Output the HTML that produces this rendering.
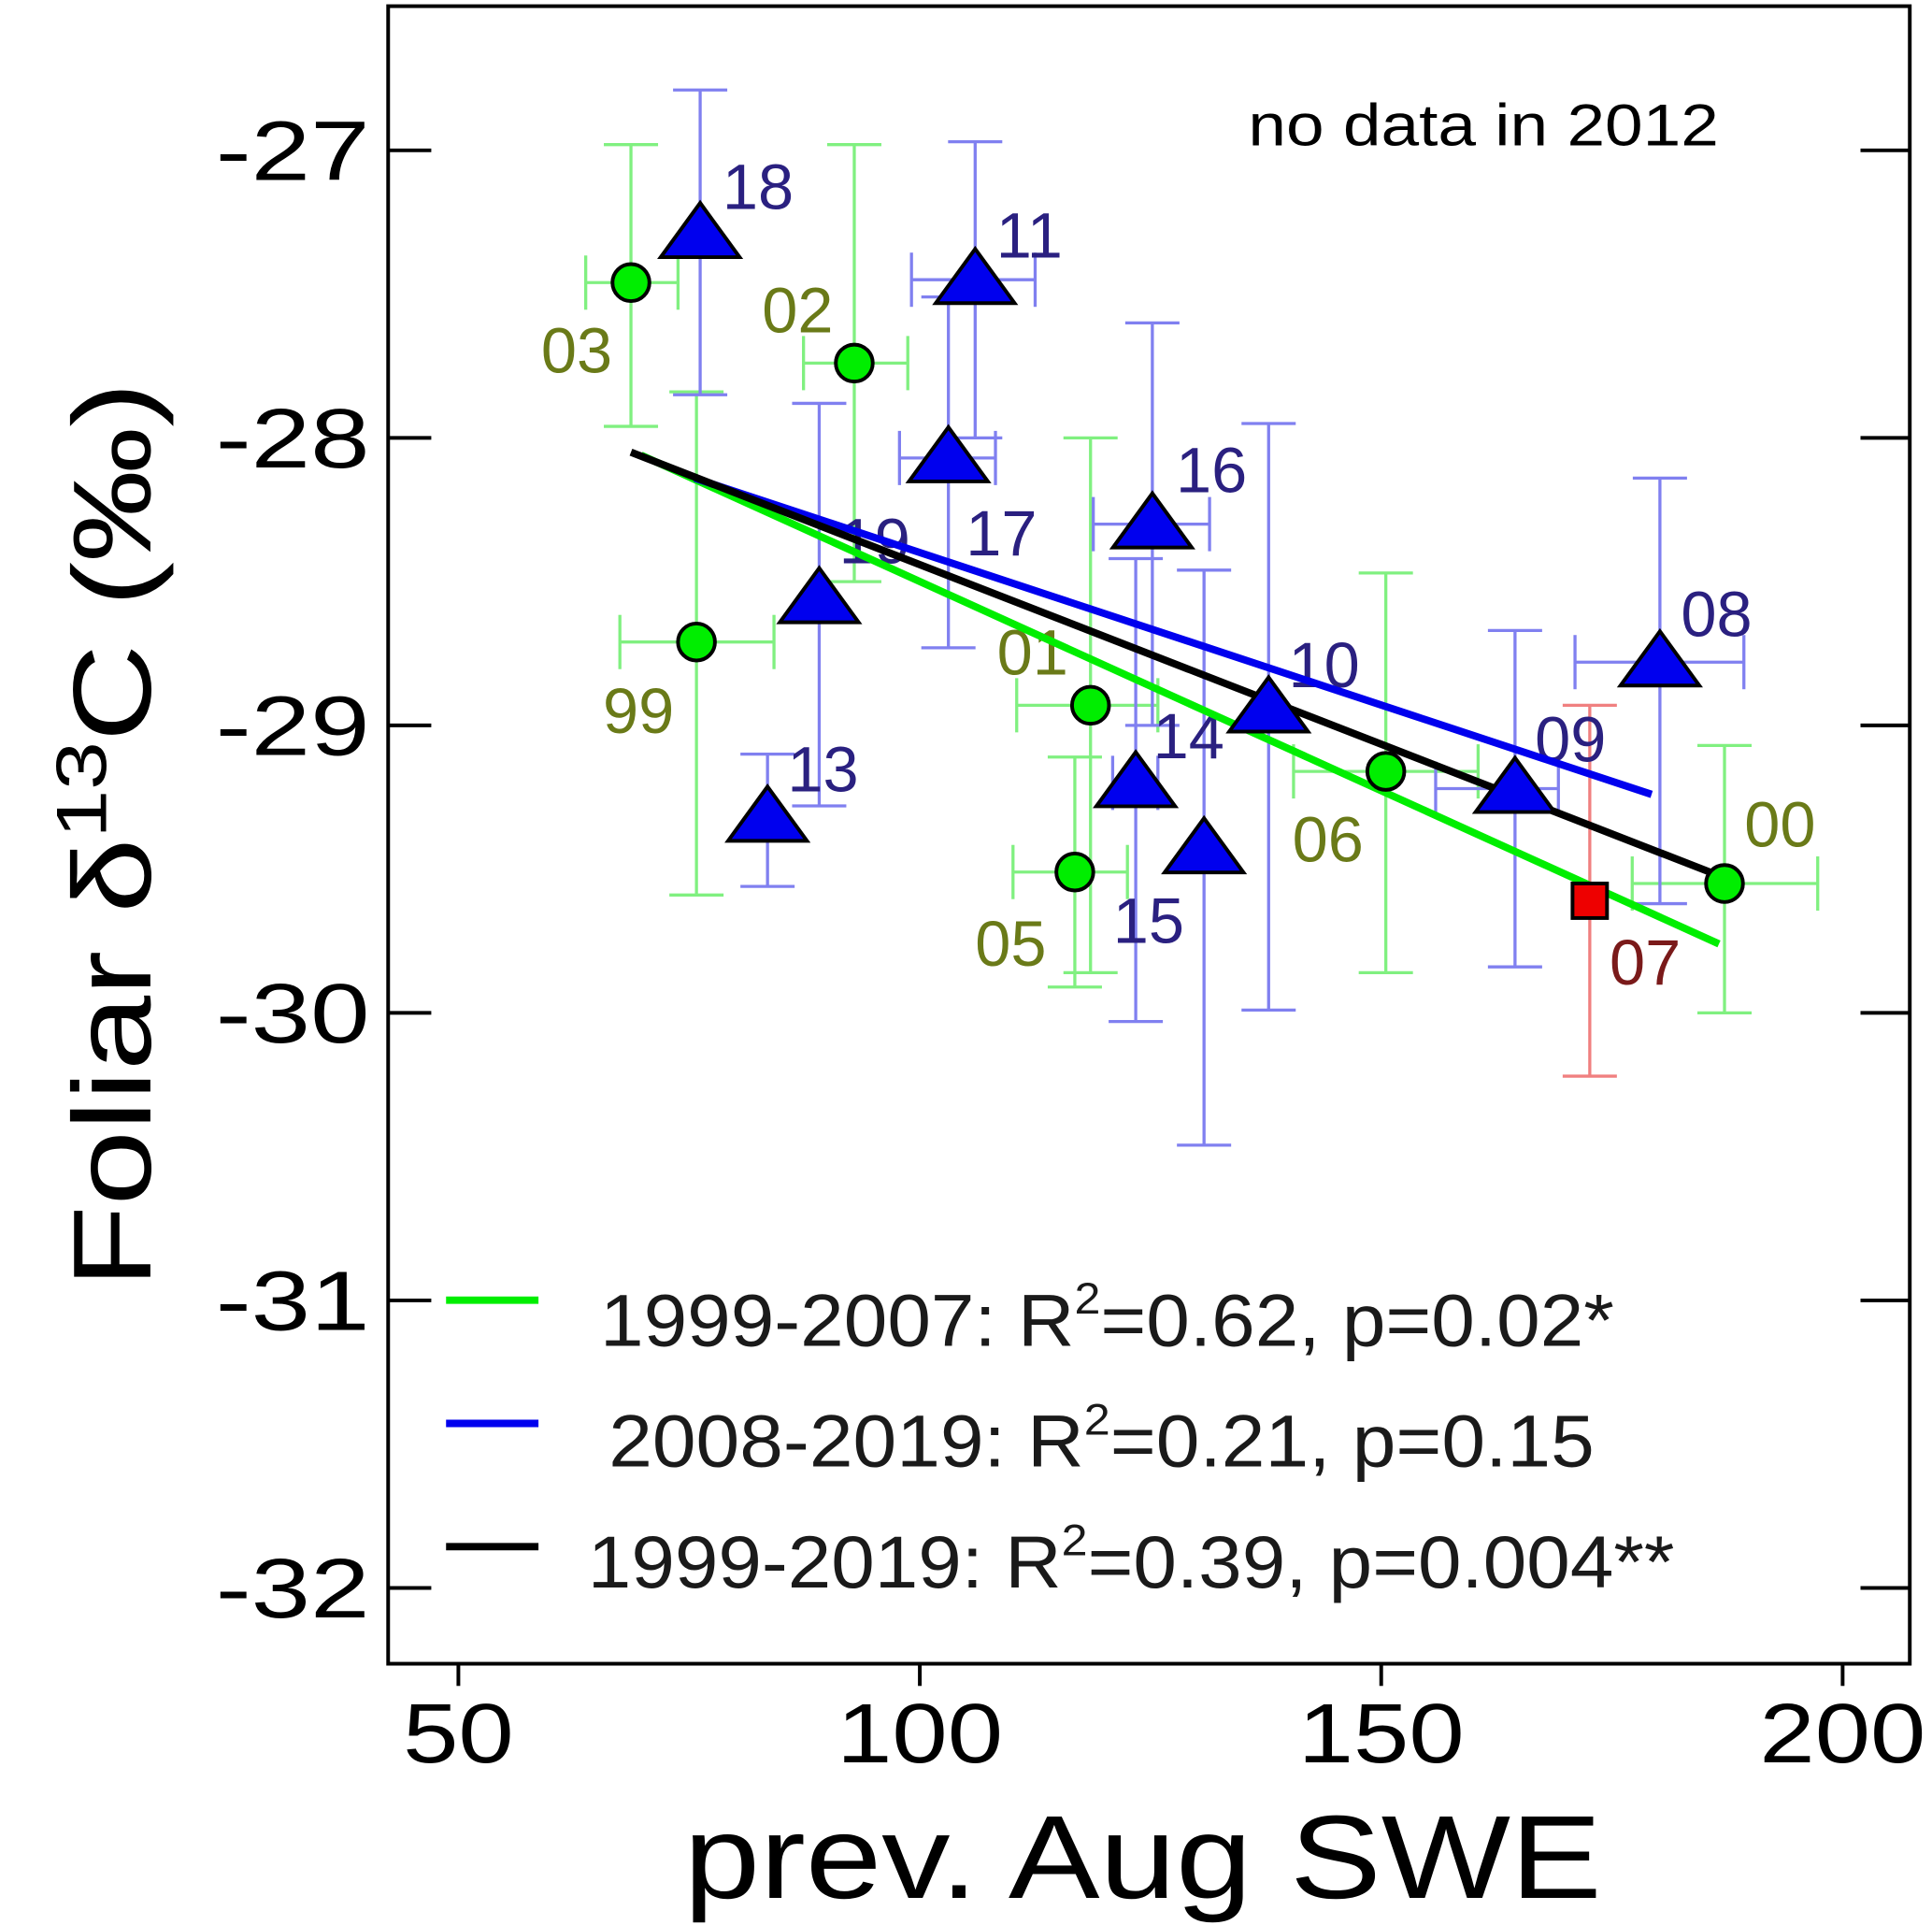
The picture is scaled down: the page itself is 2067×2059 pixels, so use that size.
<!DOCTYPE html>
<html><head><meta charset="utf-8"><style>html,body{margin:0;padding:0;background:#fff}svg{display:block}</style></head>
<body>
<svg id="chart" xmlns="http://www.w3.org/2000/svg" width="2067" height="2059" viewBox="0 0 1568 1562" font-family="Liberation Sans, Arial, sans-serif">
<rect x="0" y="0" width="1568" height="1562" fill="#fff"/>
<g id="bars"></g><g id="labels"></g><g id="fits"></g><g id="points"></g><g id="axes"></g>
<text x="1013" y="118" font-size="48" textLength="382" lengthAdjust="spacingAndGlyphs" fill="#000">no data in 2012</text>
<g>
<line x1="362" y1="1055" x2="437" y2="1055" stroke="#00ee00" stroke-width="6"/>
<text x="487" y="1092" font-size="60" textLength="823" lengthAdjust="spacingAndGlyphs" fill="#1a1a1a">1999-2007: R<tspan dy="-26" font-size="36">2</tspan><tspan dy="26">=0.62, p=0.02*</tspan></text>
<line x1="362" y1="1155" x2="437" y2="1155" stroke="#0000ee" stroke-width="6"/>
<text x="494" y="1190" font-size="60" textLength="800" lengthAdjust="spacingAndGlyphs" fill="#1a1a1a">2008-2019: R<tspan dy="-26" font-size="36">2</tspan><tspan dy="26">=0.21, p=0.15</tspan></text>
<line x1="362" y1="1255" x2="437" y2="1255" stroke="#000" stroke-width="6"/>
<text x="477" y="1288" font-size="60" textLength="882" lengthAdjust="spacingAndGlyphs" fill="#1a1a1a">1999-2019: R<tspan dy="-26" font-size="36">2</tspan><tspan dy="26">=0.39, p=0.004**</tspan></text>
</g>
<text x="555" y="1540" font-size="96" textLength="745" lengthAdjust="spacingAndGlyphs" fill="#000">prev. Aug SWE</text>
<text transform="translate(122,1045) rotate(-90)" font-size="90" textLength="735" lengthAdjust="spacingAndGlyphs" fill="#000">Foliar δ<tspan dy="-36" font-size="58">13</tspan><tspan dy="36">C (‰)</tspan></text>
</svg>
<script>
const years = ['03','99','02','01','05','06','00','07','18','11','17','16','19','13','14','15','10','09','08'];
const groups = ['g','g','g','g','g','g','g','r','b','b','b','b','b','b','b','b','b','b','b'];
const xVals = [68.7,75.8,92.9,118.5,116.8,150.5,187.2,172.6,76.2,106.0,103.1,125.2,89.1,83.5,123.4,130.8,137.8,164.5,180.2];
const yVals = [-27.46,-28.71,-27.74,-28.93,-29.51,-29.16,-29.55,-29.61,-27.29,-27.45,-28.07,-28.30,-28.56,-29.32,-29.20,-29.43,-28.94,-29.22,-28.78];
const yLo = [-27.96,-29.59,-28.50,-29.86,-29.91,-29.86,-30.00,-30.22,-27.85,-28.00,-28.73,-29.00,-29.28,-29.56,-30.03,-30.46,-29.99,-29.84,-29.62];
const yHi = [-26.98,-27.84,-26.98,-28.00,-29.11,-28.47,-29.07,-28.93,-26.79,-26.97,-27.51,-27.60,-27.88,-29.10,-28.42,-28.46,-27.95,-28.67,-28.14];
const xLo = [63.8,67.5,87.4,110.5,110.1,140.5,177.2,null,null,99.1,97.8,118.8,null,null,120.9,null,null,155.9,171.0];
const xHi = [73.8,84.2,98.7,125.8,122.5,160.5,197.3,null,null,112.5,108.2,131.4,null,null,125.8,null,null,169.2,189.3];
const fitNames = ['1999-2007','2008-2019','1999-2019'];
const fitX0 = [69.8,75.6,68.7];
const fitX1 = [186.6,179.3,187.2];
const fitY0 = [-28.06,-28.14,-28.05];
const fitY1 = [-29.76,-29.24,-29.53];
const xTicks = [50,100,150,200];
const yTicks = [-27,-28,-29,-30,-31,-32];

const NS='http://www.w3.org/2000/svg';
const sx = v => 372 + (v-50)*7.49;
const sy = v => 122 + (-27 - v)*233.3;
const labDx=[-44,-47,-46,-47,-52,-47,45,45,47,44,43,48,45,45,43,-45,45,45,46];
const labDy=[55,56,-43,-43,58,55,-48,50,-38,-36,61,-44,-47,-39,-38,58,-35,-40,-39];
const barCol={g:'#80f080',b:'#8080f0',r:'#f08080'};
const fillCol={g:'#00ee00',b:'#0000ee',r:'#ee0000'};
const labCol={g:'#6a7a18',b:'#2a2080',r:'#7a1a1a'};
function mk(tag,attrs,parent){const e=document.createElementNS(NS,tag);for(const k in attrs)e.setAttribute(k,attrs[k]);parent.appendChild(e);return e;}
const bars=document.getElementById('bars'),labels=document.getElementById('labels'),fits=document.getElementById('fits'),pts=document.getElementById('points'),axes=document.getElementById('axes');
for(let i=0;i<years.length;i++){
  const c=barCol[groups[i]],x=sx(xVals[i]),y=sy(yVals[i]);
  const g=mk('g',{stroke:c,'stroke-width':2.5,fill:'none'},bars);
  
  
  const y1=sy(yLo[i]),y2=sy(yHi[i]);
  mk('line',{x1:x,y1:y1,x2:x,y2:y2},g);
  mk('line',{x1:x-22,y1:y1,x2:x+22,y2:y1},g);
  mk('line',{x1:x-22,y1:y2,x2:x+22,y2:y2},g);
  if(xLo[i]!==null){
    const a=sx(xLo[i]),b=sx(xHi[i]);
    mk('line',{x1:a,y1:y,x2:b,y2:y},g);
    mk('line',{x1:a,y1:y-22,x2:a,y2:y+22},g);
    mk('line',{x1:b,y1:y-22,x2:b,y2:y+22},g);
  }
  const t=mk('text',{x:x+labDx[i],y:y+labDy[i]+18,'font-size':52,'text-anchor':'middle',fill:labCol[groups[i]]},labels);
  t.textContent=years[i];
  
  
}
const fitCols=['#00ee00','#0000ee','#000000'];
for(let k=0;k<fitNames.length;k++){
  const l=mk('line',{x1:sx(fitX0[k]),y1:sy(fitY0[k]),x2:sx(fitX1[k]),y2:sy(fitY1[k]),stroke:fitCols[k],'stroke-width':6},fits);
  
  
}
for(let i=0;i<years.length;i++){
  const x=sx(xVals[i]),y=sy(yVals[i]),gp=groups[i];let e;
  if(gp==='g') e=mk('circle',{cx:x,cy:y,r:15,fill:fillCol.g,stroke:'#000','stroke-width':3},pts);
  else if(gp==='r') e=mk('rect',{x:x-14,y:y-14,width:28,height:28,fill:fillCol.r,stroke:'#000','stroke-width':3},pts);
  else e=mk('polygon',{points:`${x},${y-25} ${x-32},${y+19} ${x+32},${y+19}`,fill:fillCol.b,stroke:'#000','stroke-width':3},pts);
  
  
}
const frame=mk('rect',{x:315,y:5,width:1235,height:1345,fill:'none',stroke:'#000','stroke-width':3},axes);


for(const v of xTicks){
  const x=sx(v);
  const tk=mk('line',{x1:x,y1:1350,x2:x,y2:1368,stroke:'#000','stroke-width':3},axes);
  
  
  const s=String(v);
  const tt=mk('text',{x:x,y:1430,'font-size':68,'text-anchor':'middle',textLength:s.length*45,lengthAdjust:'spacingAndGlyphs',fill:'#000'},axes);
  tt.textContent=s;
  
  
}
for(const v of yTicks){
  const y=sy(v);
  const tk=mk('g',{stroke:'#000','stroke-width':3},axes);
  
  
  mk('line',{x1:315,y1:y,x2:350,y2:y},tk);
  mk('line',{x1:1510,y1:y,x2:1550,y2:y},tk);
  const tt=mk('text',{x:175,y:y+24,'font-size':68,textLength:125,lengthAdjust:'spacingAndGlyphs',fill:'#000'},axes);
  tt.textContent=v;
  
  
}
</script>
</body></html>
